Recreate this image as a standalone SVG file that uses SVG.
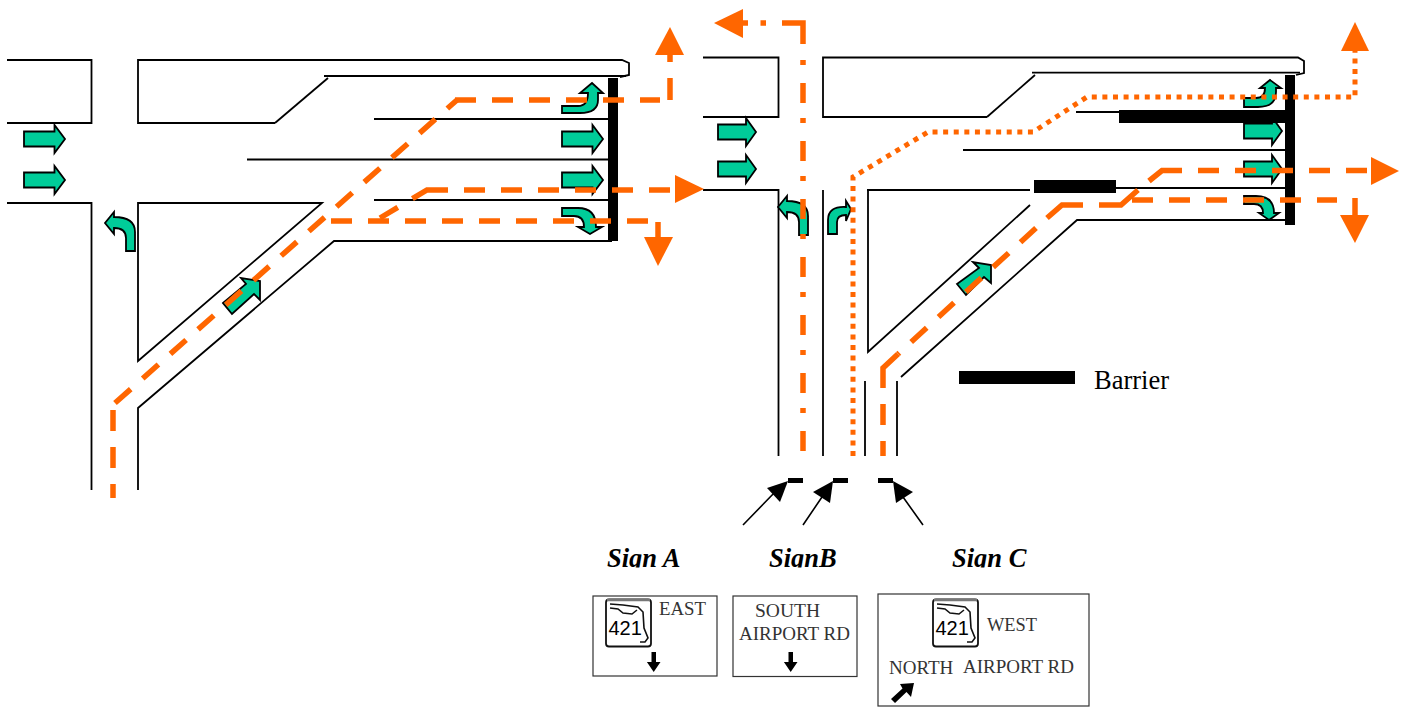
<svg xmlns="http://www.w3.org/2000/svg" width="1411" height="707" viewBox="0 0 1411 707">
<style>
.road{fill:none;stroke:#000;stroke-width:1.8;stroke-linejoin:miter}
.ga{fill:#00CC99;stroke:#000;stroke-width:1.8;stroke-linejoin:miter}
.dash{fill:none;stroke:#FF6600;stroke-width:5.5;stroke-dasharray:21 16}
.solid{fill:none;stroke:#FF6600;stroke-width:5.5}
.dot{fill:none;stroke:#FF6600;stroke-width:5;stroke-dasharray:5 5.6}
.head{fill:#FF6600}
.bar{fill:#000}
.ptr{fill:none;stroke:#000;stroke-width:1.6}
.sign{fill:#fff;stroke:#333;stroke-width:1.2}
.lbl{font-family:"Liberation Serif","Times New Roman",serif;fill:#333}
.title{font-family:"Liberation Serif","Times New Roman",serif;font-weight:bold;font-style:italic;font-size:26.5px;fill:#000}
.num{font-family:"Liberation Sans",Arial,sans-serif;font-size:20px;fill:#000}
</style>
<defs>
<path id="straight" d="M0,-7.500H30.500V-14L41,0L30.500,14V7.500H0Z"/>
<path id="shortstraight" d="M0,-7.500H28V-14L38,0L28,14V7.500H0Z"/>
<path id="lturn" d="M126,251H135V232Q135,217 114,217V212L105,223L114,234V228Q126,228 126,238Z"/>
<g id="shield">
<rect x="606" y="599.500" width="45" height="47" rx="3" fill="#fff" stroke="#111" stroke-width="1.800"/>
<path d="M607,600H650" fill="none" stroke="#777" stroke-width="2.500"/>
<path d="M610,604L623,605L638,607L643,612L644,628L648,638L645,642L640,642M610,608L618,609L623,613L632,614L637,610" fill="none" stroke="#111" stroke-width="1.600"/>
<text class="num" x="608.500" y="635">421</text>
</g>
<clipPath id="titleClip"><rect x="590" y="540" width="460" height="27.500"/></clipPath>
</defs>

<g id="roads-left">
<path class="road" d="M7,60H91.500V123H7"/>
<path class="road" d="M7,203H91.500V490"/>
<path class="road" d="M275,123H138V60H622L629,63V75L620,77"/>
<path class="road" d="M275,123L328,78"/>
<path class="road" d="M324,76H626"/>
<path class="road" d="M374,119H612M247,159.500H612M374,200H612"/>
<path class="road" d="M322,203H138V361Z"/>
<path class="road" d="M138,490V408L334,241H612"/>
</g>

<g id="roads-right">
<path class="road" d="M703,57.500H778.500V117H703"/>
<path class="road" d="M703,190H778.500V456"/>
<path class="road" d="M823,190V456"/>
<path class="road" d="M987,117H823V57.500H1298L1304,61V73L1296,75"/>
<path class="road" d="M987,117L1035,75"/>
<path class="road" d="M1032,72.700H1300"/>
<path class="road" d="M1076,112H1120M963,150H1286M1116,188H1286"/>
<path class="road" d="M1030,190H867M868,190V352L1030,205"/>
<path class="road" d="M865,381V456M897,456V381"/>
<path class="road" d="M901,377L1077,220H1286"/>
</g>

<g id="green-arrows">
<use href="#straight" class="ga" transform="translate(24,139)"/>
<use href="#straight" class="ga" transform="translate(24,180)"/>
<use href="#straight" class="ga" transform="translate(562,139)"/>
<use href="#straight" class="ga" transform="translate(562,180)"/>
<path class="ga" d="M562,113V106H578Q588,106 588,93H580L592,83L603,93H598V100Q598,113 580,113Z"/>
<path class="ga" d="M562,208H578Q596,208 596,227H602L590,234L578,227H584Q584,216 574,216H562Z"/>
<use href="#lturn" class="ga"/>
<polygon class="ga" points="223,303 246,284 241,278 260,281 260,300 254,294 232,314"/>
<use href="#shortstraight" class="ga" transform="translate(718,132)"/>
<use href="#shortstraight" class="ga" transform="translate(718,169)"/>
<use href="#shortstraight" class="ga" transform="translate(1244,131)"/>
<use href="#shortstraight" class="ga" transform="translate(1244,169)"/>
<use href="#lturn" class="ga" transform="translate(673,-16)"/>
<path class="ga" d="M828,234H837V222Q837,215 846,215V221L851,209L846,201V207Q828,206 828,220Z"/>
<path class="ga" d="M1244,107V98H1256Q1265,98 1265,88H1260L1270,80L1281,88H1276V92Q1276,107 1258,107Z"/>
<path class="ga" d="M1244,196H1256Q1274,196 1274,213H1279L1269,220L1259,213H1263Q1263,204 1254,204H1244Z"/>
<polygon class="ga" points="957,284 979,268 973,262 991,265 991,283 984,277 966,295"/>
</g>

<g id="barriers">
<rect class="bar" x="608" y="78" width="10" height="163"/>
<rect class="bar" x="1285" y="75" width="10" height="150"/>
<rect class="bar" x="1119" y="110" width="166" height="13"/>
<rect class="bar" x="1034" y="180" width="82" height="13"/>
<rect class="bar" x="959" y="371" width="116" height="13"/>
</g>

<g id="routes">
<path class="dash" d="M455,100H660"/>
<path class="solid" d="M670,100V78M670,62V50"/>
<path class="dash" d="M115,403L457,100"/>
<path class="dash" d="M113,410V498"/>
<path fill="none" stroke="#FF6600" stroke-width="5.500" stroke-dasharray="38 17 25" d="M448,190H427L380,218"/>
<path class="dash" d="M464,190H672"/>
<path class="dash" d="M331,221H650"/>
<path class="solid" d="M658,222V238"/>
<polygon class="head" points="670,27 684,55 655,55"/>
<polygon class="head" points="704,189 675,175 675,203"/>
<polygon class="head" points="658,266 644,237 673,237"/>

<path class="solid" d="M803,44V23H782M760.500,23H766M748,23H736"/>
<path fill="none" stroke="#FF6600" stroke-width="5.500" stroke-dasharray="20 18 5 15" d="M803,451V60"/>
<polygon class="head" points="714,23 743,9 743,38"/>

<path class="dot" d="M853,456V177L928,132H1033L1087,97H1355V50"/>
<polygon class="head" points="1355,22 1369,51 1341,51"/>

<path class="solid" d="M1083,205H1062L1047,218"/>
<path class="dash" d="M1036,228L898,354"/>
<path class="solid" d="M898,354L883,368V388"/>
<path class="dash" d="M883,404V456"/>
<path class="solid" d="M1099,205H1121L1138,190M1149,181L1162,170.500H1182"/>
<path class="dash" d="M1198,170.500H1370"/>
<path class="dash" d="M1132,200H1337"/>
<path class="solid" d="M1355,198V217"/>
<polygon class="head" points="1399,171 1371,157 1371,185"/>
<polygon class="head" points="1355,243 1340,215 1369,215"/>
</g>

<g id="sign-pointers">
<path class="bar" d="M788,478h15v5h-15zM833,478h15v5h-15zM878,478h15v5h-15z"/>
<path class="ptr" d="M743,525L776,491M803,525L822,497M923,525L903,497"/>
<polygon class="bar" points="788,481 767,488 780,502"/>
<polygon class="bar" points="833,481 813,492 830,503"/>
<polygon class="bar" points="893,481 913,492 896,503"/>
</g>

<g id="legend">
<text x="1094" y="389" font-family="'Liberation Serif','Times New Roman',serif" font-size="26.500" fill="#000">Barrier</text>
</g>

<g id="titles" clip-path="url(#titleClip)">
<text class="title" x="607" y="567">Sign A</text>
<text class="title" x="769" y="567">SignB</text>
<text class="title" x="952" y="567">Sign C</text>
</g>

<g id="sign-a">
<rect class="sign" x="593" y="596" width="124" height="80"/>
<use href="#shield"/>
<text class="lbl" x="659" y="615" font-size="18.800">EAST</text>
<path class="bar" d="M651.500,652h4.500v10h4.500l-6.800,10l-6.800,-10h4.600z"/>
</g>
<g id="sign-b">
<rect class="sign" x="733" y="596" width="124" height="80.500"/>
<text class="lbl" x="755" y="617" font-size="19.500">SOUTH</text>
<text class="lbl" x="739" y="640" font-size="19">AIRPORT RD</text>
<path class="bar" d="M788.500,652h4.500v10h4.500l-6.800,10l-6.800,-10h4.600z"/>
</g>
<g id="sign-c">
<rect class="sign" x="878" y="594" width="211" height="112"/>
<use href="#shield" transform="translate(327,0)"/>
<text class="lbl" x="987" y="631" font-size="18.400">WEST</text>
<text class="lbl" x="889" y="674" font-size="19">NORTH</text>
<text class="lbl" x="963" y="673" font-size="19">AIRPORT RD</text>
<polygon class="bar" points="914,683 911,697 906.500,692 895,703 891,699 902.500,688.500 900,684"/>
</g>
</svg>
